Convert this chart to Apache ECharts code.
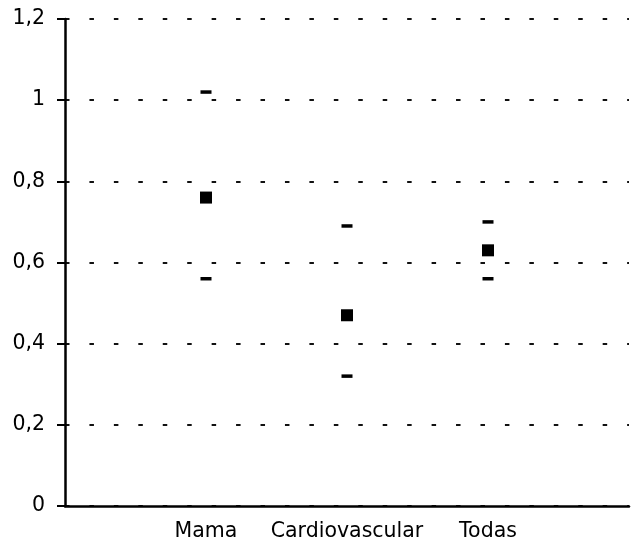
<!DOCTYPE html>
<html>
<head>
<meta charset="utf-8">
<script src="https://cdn.jsdelivr.net/npm/echarts@6/dist/echarts.min.js"></script>
<style>html,body{margin:0;padding:0;background:#fff}#c{width:639px;height:542px}</style>
</head>
<body>
<div id="c"></div>
<script>
var categories = ['Mama', 'Cardiovascular', 'Todas'];
var estimate = [0.76, 0.47, 0.63];
var upper = [1.02, 0.69, 0.70];
var lower = [0.56, 0.32, 0.56];
var yTicks = [0, 0.2, 0.4, 0.6, 0.8, 1, 1.2];

var axisCats = [''].concat(categories).concat(['']);
function pts(arr) { return arr.map(function (v, i) { return [categories[i], v]; }); }

var chart = echarts.init(document.getElementById('c'));
chart.setOption({
  animation: false,
  backgroundColor: '#fff',
  grid: { left: 65, right: 10, top: 19, bottom: 35.5 },
  xAxis: {
    type: 'category',
    data: axisCats,
    boundaryGap: false,
    axisLine: { lineStyle: { color: '#000', width: 2.5 } },
    axisTick: { show: false },
    axisLabel: { interval: 0, margin: 15, color: '#000', fontFamily: 'DejaVu Sans', fontSize: 20.5 },
    splitLine: { show: false }
  },
  yAxis: {
    type: 'value',
    min: yTicks[0],
    max: yTicks[yTicks.length - 1],
    interval: 0.2,
    axisLine: { show: true, lineStyle: { color: '#000', width: 2.5 } },
    axisTick: { show: true, length: 8, lineStyle: { color: '#000', width: 2 } },
    axisLabel: {
      margin: 20, color: '#000', fontFamily: 'DejaVu Sans', fontSize: 20.5,
      formatter: function (v) { return String(Math.round(v * 10) / 10).replace('.', ','); }
    },
    splitLine: { show: true, lineStyle: { color: '#111', width: 2, type: [4.5, 19.94], dashOffset: 0 } }
  },
  series: [
    {
      type: 'scatter', name: 'upper', data: pts(upper),
      symbol: 'rect', symbolSize: [11, 3.5], itemStyle: { color: '#000', opacity: 1 }, z: 5
    },
    {
      type: 'scatter', name: 'lower', data: pts(lower),
      symbol: 'rect', symbolSize: [11, 3.5], itemStyle: { color: '#000', opacity: 1 }, z: 5
    },
    {
      type: 'scatter', name: 'estimate', data: pts(estimate),
      symbol: 'rect', symbolSize: [12, 12], itemStyle: { color: '#000', opacity: 1 }, z: 6
    }
  ]
});
</script>
</body>
</html>
